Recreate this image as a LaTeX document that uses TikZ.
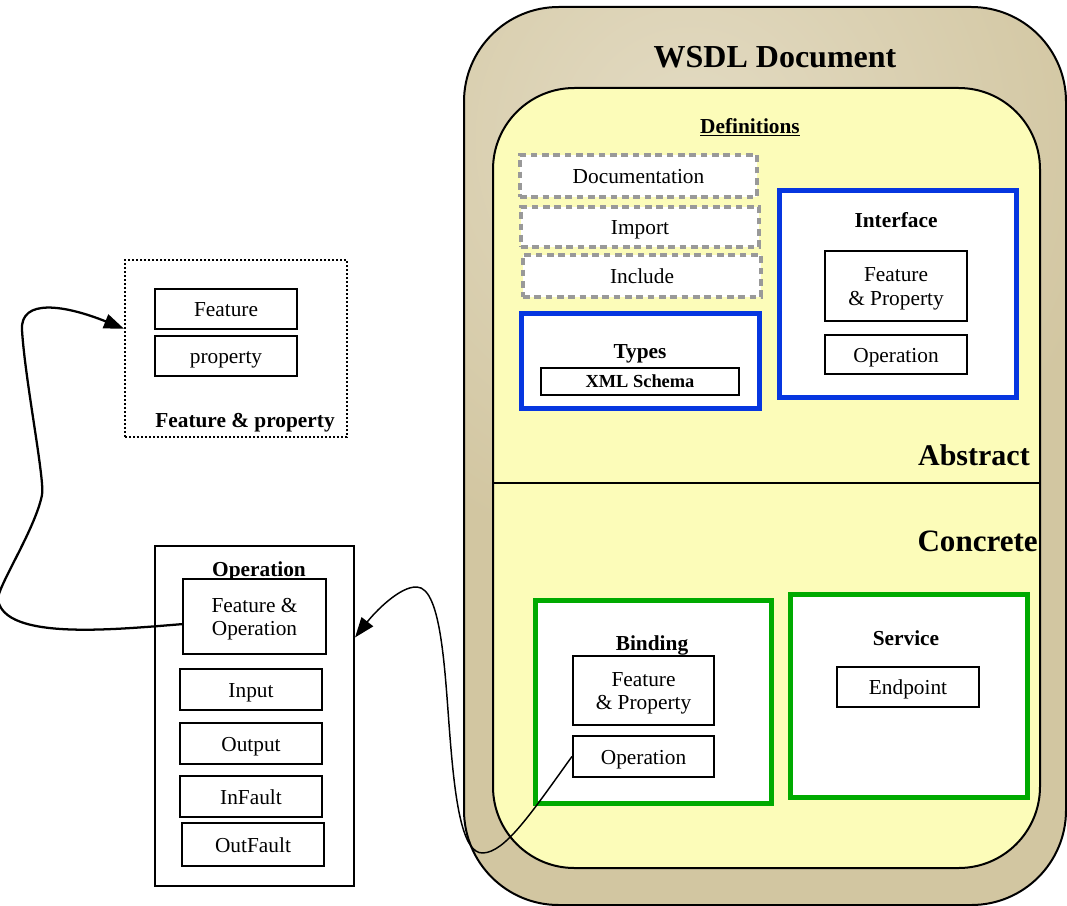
\documentclass[tikz,border=0pt]{standalone}
\usepackage{fontspec}
\setmainfont{Liberation Serif}
\usetikzlibrary{arrows.meta,fit}

\definecolor{docTan}{HTML}{D2C6A1}
\definecolor{docTanLight}{HTML}{E3DBC3}
\definecolor{docYellow}{HTML}{FCFCB9}
\definecolor{docBlue}{HTML}{0636E0}
\definecolor{docGreen}{HTML}{00AA00}
\definecolor{dashGray}{HTML}{999999}

\begin{document}
\begin{tikzpicture}[x=0.75pt,y=-0.75pt,
  txt/.style={font=\fontsize{16}{17.5}\selectfont, align=center, inner sep=0pt},
  bold/.style={font=\bfseries\fontsize{16}{18}\selectfont, inner sep=0pt},
  bx/.style={draw=black, line width=1.6pt, fill=white, inner sep=0pt},
  dashbx/.style={draw=dashGray, line width=3pt, dash pattern=on 5pt off 3.5pt, fill=white, inner sep=0pt},
  bluebx/.style={draw=docBlue, line width=3.75pt, fill=white, inner sep=0pt},
  greenbx/.style={draw=docGreen, line width=3.75pt, fill=white, inner sep=0pt},
  dotbx/.style={draw=black, line width=1.5pt, dash pattern=on 1.5pt off 1.5pt, inner sep=0pt},
  intext/.style={label={[txt, text height=10pt, text depth=3pt, yshift=-2.2pt]center:#1}},
  intwo/.style={label={[txt, yshift=-2.2pt]center:#1}},
  link/.style={draw=black, -{Triangle[length=15pt,width=11pt]}}
]
\useasboundingbox (0,0) rectangle (1067,906);

% WSDL document frame
\fill[docTan, rounded corners=71pt] (464,7) rectangle (1066,905);
\begin{scope}
  \clip[rounded corners=71pt] (464,7) rectangle (1066,905);
  \shade[inner color=docTanLight, outer color=docTan] (690,140) circle (430);
\end{scope}
\draw[line width=1.5pt, rounded corners=71pt] (464,7) rectangle (1066,905);
\node[font=\bfseries\fontsize{24}{28}\selectfont, inner sep=0pt] (title) at (775,57) {WSDL Document};

% definitions area
\draw[fill=docYellow, line width=1.5pt, rounded corners=61pt] (493,88) rectangle (1040,868);
\draw[line width=1.5pt] (493,483) -- (1040,483);
\node[bold] (defs) at (750,127) {\underline{Definitions}};

% abstract part
\node[dashbx, fit={(520,155) (757,197)}, intext=Documentation] (doc) {};
\node[dashbx, fit={(521,207) (759,247)}, intext=Import] (imp) {};
\node[dashbx, fit={(523,255) (761,297)}, intext=Include] (inc) {};

\node[bluebx, fit={(521,313) (759,408)}] (types) {};
\node[bold] (typeslbl) at (640,354) {Types};
\node[bx, fit={(541,368) (739,395)},
      label={[font=\bfseries\fontsize{13.8}{15}\selectfont, inner sep=0pt]center:XML Schema}] (xml) {};

\node[bluebx, fit={(779,190) (1016,397)}] (iface) {};
\node[bold] (ifacelbl) at (896,220) {Interface};
\node[bx, fit={(825,251) (967,321)}, intwo={Feature\\\& Property}] (ifp) {};
\node[bx, fit={(825,335) (967,374)}, intext=Operation] (iop) {};

\node[font=\bfseries\fontsize{22.5}{26}\selectfont, inner sep=0pt, anchor=east] (abs) at (1030,455) {Abstract};
\node[font=\bfseries\fontsize{23.3}{26}\selectfont, inner sep=0pt, anchor=east] (conc) at (1038,541) {Concrete};

% concrete part
\node[greenbx, fit={(535,600) (771,803)}] (bind) {};
\node[bold] (bindlbl) at (652,645) {Binding};
\node[bx, fit={(573,656) (714,725)}, intwo={Feature\\\& Property}] (bfp) {};
\node[bx, fit={(573,736) (714,777)}, intext=Operation] (bop) {};

\node[greenbx, fit={(790,594) (1027,797)}] (svc) {};
\node[bold] (svclbl) at (906,638) {Service};
\node[bx, fit={(837,667) (979,707)}, intext=Endpoint] (ep) {};

% feature & property detail
\node[dotbx, fit={(125,260) (347,437)}] (fpbox) {};
\node[bx, fit={(155,289) (297,329)}, intext=Feature] (fe) {};
\node[bx, fit={(155,336) (297,376)}, intext=property] (pr) {};
\node[bold] (fplbl) at (245,423) {Feature \& property};

% operation detail
\node[draw=black, line width=1.6pt, fill=white, inner sep=0pt, fit={(155,546) (354,886)}] (opbox) {};
\node[bold] (oplbl) at (259,571) {Operation};
\node[bx, fit={(183,579) (326,654)}, intwo={Feature \&\\Operation}] (fo) {};
\node[bx, fit={(180,669) (322,710)}, intext=Input] (opin) {};
\node[bx, fit={(180,723) (322,764)}, intext=Output] (opout) {};
\node[bx, fit={(180,776) (322,817)}, intext=InFault] (opinf) {};
\node[bx, fit={(182,823) (324,866)}, intext=OutFault] (opoutf) {};

% connectors
\begin{scope}
  \clip (0,0) rectangle (1067,906);
  \draw[link, line width=1.7pt] (fo.186)
      .. controls (110,630) and (5,640) .. (-2,600)
      .. controls (-4,589) and (35,530) .. (42,495)
      .. controls (45,480) and (25,380) .. (22,330)
      .. controls (20,298) and (65,305) .. (fpbox.170);
  \draw[link, line width=1.1pt] (bop.west)
      .. controls (530,815) and (505,852) .. (483,853)
      .. controls (462,854) and (455,800) .. (450,737)
      .. controls (445,675) and (442,588) .. (417,587)
      .. controls (400,586) and (375,612) .. (opbox.38);
\end{scope}
\end{tikzpicture}
\end{document}
